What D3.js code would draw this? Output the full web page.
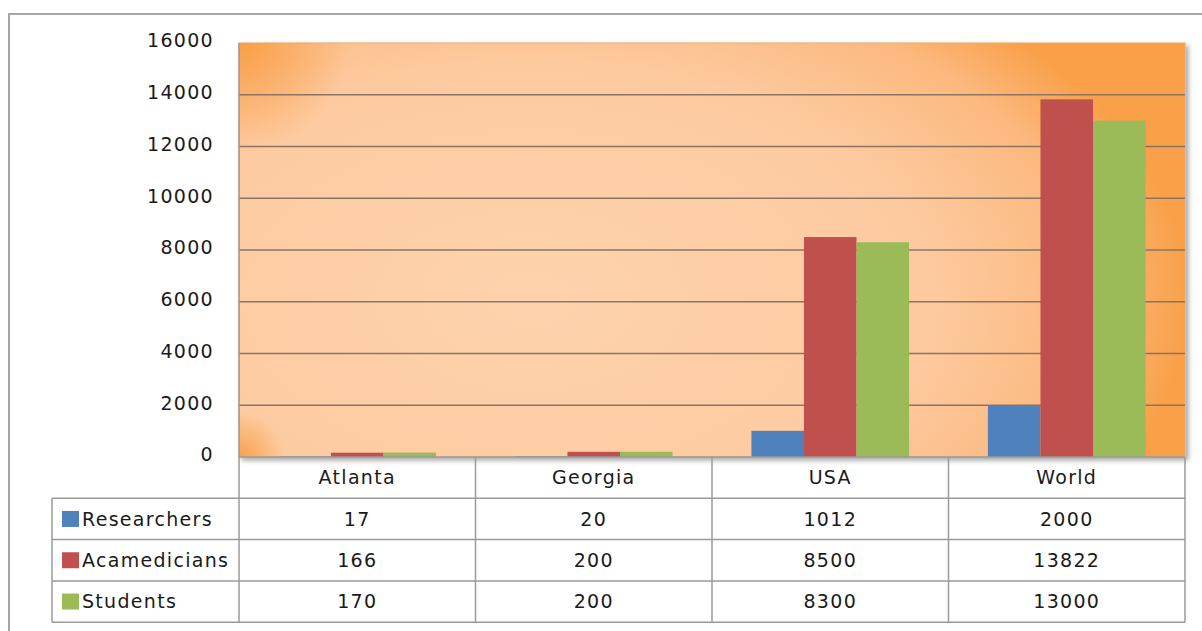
<!DOCTYPE html>
<html>
<head>
<meta charset="utf-8">
<script src="https://cdn.jsdelivr.net/npm/d3@7"></script>
<style>
  body { margin: 0; background: #fff; }
  text { font-family: "DejaVu Sans", sans-serif; fill: #1a1a1a; }
</style>
</head>
<body>
<svg width="1202" height="631"></svg>
<script>
var categories = ["Atlanta", "Georgia", "USA", "World"];
var seriesNames = ["Researchers", "Acamedicians", "Students"];
var researchers = [17, 20, 1012, 2000];
var acamedicians = [166, 200, 8500, 13822];
var students = [170, 200, 8300, 13000];
var yTicks = [0, 2000, 4000, 6000, 8000, 10000, 12000, 14000, 16000];

var seriesValues = [researchers, acamedicians, students];
var colors = ["#4f81bd", "#c0504d", "#9bbb59"];

var svg = d3.select("svg"),
    width = +svg.attr("width"),
    height = +svg.attr("height");

var plot = { left: 239, right: 1185, top: 43, bottom: 457 };
var rowH = 41.3;
var legendLeft = 52;
var fontSize = 19;

var defs = svg.append("defs");
var grad = defs.append("radialGradient")
    .attr("id", "bg")
    .attr("gradientUnits", "userSpaceOnUse")
    .attr("cx", 0).attr("cy", 0).attr("r", 1)
    .attr("gradientTransform", "translate(530,300) scale(660,390)");
grad.append("stop").attr("offset", "0").attr("stop-color", "#fdd3ad");
grad.append("stop").attr("offset", "0.6").attr("stop-color", "#fdcaa0");
grad.append("stop").attr("offset", "0.85").attr("stop-color", "#fcb97f");
grad.append("stop").attr("offset", "1").attr("stop-color", "#f9a048");

// orange glow in the left corners of the plot area
function cornerGlow(id, cx, cy, r) {
    var g = defs.append("radialGradient").attr("id", id)
        .attr("gradientUnits", "userSpaceOnUse")
        .attr("cx", cx).attr("cy", cy).attr("r", r);
    g.append("stop").attr("offset", "0").attr("stop-color", "#f99c40").attr("stop-opacity", 0.9);
    g.append("stop").attr("offset", "1").attr("stop-color", "#f99c40").attr("stop-opacity", 0);
}
cornerGlow("glowTL", plot.left, plot.top, 110);
cornerGlow("glowBL", plot.left, plot.bottom, 45);

var shadow = defs.append("filter").attr("id", "shadow")
    .attr("x", "-5%").attr("y", "-5%").attr("width", "115%").attr("height", "115%");
shadow.append("feGaussianBlur").attr("in", "SourceAlpha").attr("stdDeviation", 2.5);
shadow.append("feOffset").attr("dx", 3).attr("dy", 3).attr("result", "b");
shadow.append("feComponentTransfer").append("feFuncA").attr("type", "linear").attr("slope", 0.35);
var merge = shadow.append("feMerge");
merge.append("feMergeNode");
merge.append("feMergeNode").attr("in", "SourceGraphic");

// outer chart border (right and bottom edges fall outside the picture)
svg.append("rect")
    .attr("x", 9).attr("y", 14)
    .attr("width", width + 20).attr("height", height + 20)
    .attr("fill", "none").attr("stroke", "#a6a6a6").attr("stroke-width", 2);

var x0 = d3.scaleBand().domain(categories).range([plot.left, plot.right]);
var x1 = d3.scaleBand().domain(seriesNames).range([0, x0.bandwidth()])
    .paddingOuter(0.75).paddingInner(0);
var y = d3.scaleLinear().domain([0, 16000]).range([plot.bottom, plot.top]);

// plot area
var pw = plot.right - plot.left, ph = plot.bottom - plot.top;
svg.append("rect")
    .attr("x", plot.left).attr("y", plot.top)
    .attr("width", pw).attr("height", ph)
    .attr("fill", "url(#bg)")
    .attr("stroke", "#f4a560").attr("stroke-width", 1)
    .attr("filter", "url(#shadow)");
svg.append("rect")
    .attr("x", plot.left).attr("y", plot.top)
    .attr("width", pw).attr("height", ph)
    .attr("fill", "url(#glowTL)");
svg.append("rect")
    .attr("x", plot.left).attr("y", plot.top)
    .attr("width", pw).attr("height", ph)
    .attr("fill", "url(#glowBL)");

// gridlines
svg.append("g")
    .selectAll("line")
    .data(yTicks.filter(function(d) { return d > 0 && d < 16000; }))
    .enter().append("line")
    .attr("x1", plot.left).attr("x2", plot.right)
    .attr("y1", function(d) { return y(d); })
    .attr("y2", function(d) { return y(d); })
    .attr("stroke", "#8b7464").attr("stroke-width", 1.4);

// bars
var groups = svg.append("g")
    .selectAll("g")
    .data(categories)
    .enter().append("g")
    .attr("transform", function(d) { return "translate(" + x0(d) + ",0)"; });

groups.selectAll("rect")
    .data(function(d, i) {
        return seriesNames.map(function(s, j) { return { s: s, v: seriesValues[j][i], c: colors[j] }; });
    })
    .enter().append("rect")
    .attr("x", function(d) { return x1(d.s); })
    .attr("width", x1.bandwidth())
    .attr("y", function(d) { return y(d.v); })
    .attr("height", function(d) { return plot.bottom - y(d.v); })
    .attr("fill", function(d) { return d.c; });

// y axis labels
var yAxis = d3.axisLeft(y).tickValues(yTicks).tickSize(0).tickPadding(0).tickFormat(d3.format("d"));
var yg = svg.append("g")
    .attr("transform", "translate(214,0)")
    .call(yAxis);
yg.select(".domain").remove();
yg.selectAll("text")
    .attr("font-size", fontSize)
    .attr("letter-spacing", 1.3)
    .attr("dy", "0.2em")
    .style("font-family", "'DejaVu Sans', sans-serif")
    .attr("fill", "#1a1a1a");

// data table
var table = svg.append("g").attr("stroke", "#9a9a9a").attr("stroke-width", 1.5);
var tableBottom = plot.bottom + rowH * 4;
table.append("line").attr("x1", plot.left).attr("x2", plot.right)
    .attr("y1", plot.bottom).attr("y2", plot.bottom);
[1, 2, 3, 4].forEach(function(r) {
    table.append("line").attr("x1", legendLeft).attr("x2", plot.right)
        .attr("y1", plot.bottom + rowH * r).attr("y2", plot.bottom + rowH * r);
});
table.append("line").attr("x1", legendLeft).attr("x2", legendLeft)
    .attr("y1", plot.bottom + rowH).attr("y2", tableBottom);
table.append("line").attr("x1", plot.left).attr("x2", plot.left)
    .attr("y1", plot.top).attr("y2", tableBottom);
categories.forEach(function(c) {
    var xe = x0(c) + x0.bandwidth();
    table.append("line").attr("x1", xe).attr("x2", xe)
        .attr("y1", plot.bottom).attr("y2", tableBottom);
});

// category header
svg.append("g").selectAll("text")
    .data(categories)
    .enter().append("text")
    .attr("x", function(d) { return x0(d) + x0.bandwidth() / 2; })
    .attr("y", plot.bottom + rowH / 2)
    .attr("dy", "0.36em")
    .attr("text-anchor", "middle")
    .attr("font-size", fontSize)
    .attr("letter-spacing", 1.3)
    .text(function(d) { return d; });

// rows with legend keys
seriesNames.forEach(function(s, j) {
    var cy = plot.bottom + rowH * (j + 1) + rowH / 2;
    svg.append("rect")
        .attr("x", 62).attr("y", cy - 8)
        .attr("width", 17).attr("height", 16)
        .attr("fill", colors[j]);
    svg.append("text")
        .attr("x", 82).attr("y", cy)
        .attr("dy", "0.36em")
        .attr("font-size", fontSize)
        .attr("letter-spacing", 1.3)
        .text(s);
    svg.append("g").selectAll("text")
        .data(seriesValues[j])
        .enter().append("text")
        .attr("x", function(d, i) { return x0(categories[i]) + x0.bandwidth() / 2; })
        .attr("y", cy)
        .attr("dy", "0.36em")
        .attr("text-anchor", "middle")
        .attr("font-size", fontSize)
        .attr("letter-spacing", 1.3)
        .text(function(d) { return d; });
});
</script>
</body>
</html>
